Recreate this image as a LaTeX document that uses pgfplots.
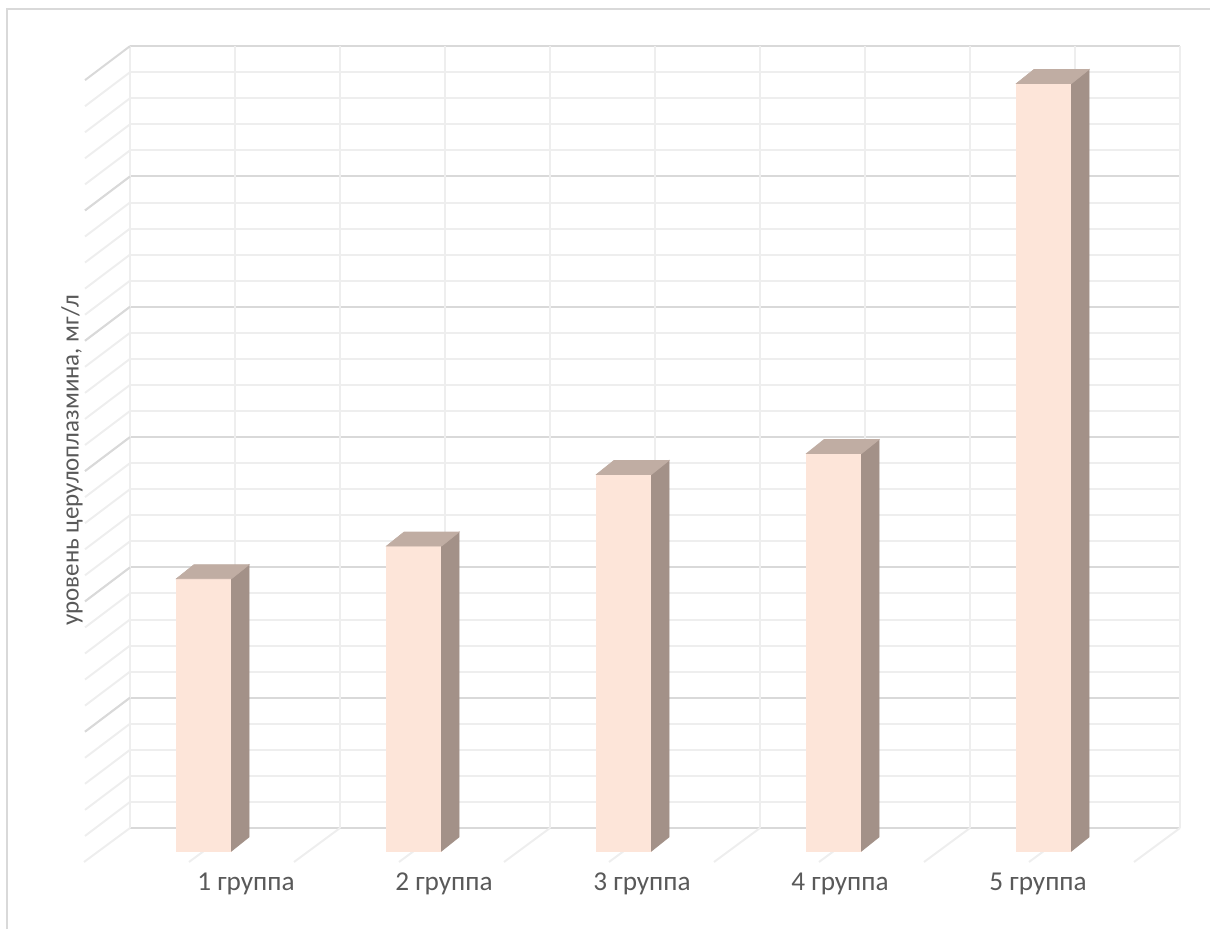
\documentclass[border=0pt]{standalone}
\usepackage{fontspec}
\setmainfont{Carlito}
\usepackage{pgfplots}
\usepackage{pgfplotstable}
\pgfplotsset{compat=1.18}
\definecolor{barfront}{RGB}{253,229,217}
\definecolor{bartop}{RGB}{192,173,163}
\definecolor{barside}{RGB}{163,145,136}
\definecolor{gmajor}{RGB}{217,217,217}
\definecolor{gminor}{RGB}{238,238,238}
\definecolor{txt}{RGB}{89,89,89}
\definecolor{framecol}{RGB}{217,217,217}

\pgfplotstableread{
x val
1 209
2 234
3 289
4 305
5 589
}\datatable

\pgfdeclareplotmark{cube3d}{%
  \pgfmathsetlengthmacro{\ybot}{-0.46cm-\barval*0.026067cm}%
  \fill[barfront] (-1.17cm,\ybot) rectangle (-0.07cm,-0.46cm);
  \fill[barside] (-0.07cm,\ybot) -- ++(0.35cm,0.28cm) -- (0.28cm,-0.18cm) -- (-0.07cm,-0.46cm) -- cycle;
  \fill[bartop] (-1.17cm,-0.46cm) -- (-0.07cm,-0.46cm) -- (0.28cm,-0.18cm) -- (-0.82cm,-0.18cm) -- cycle;
}

\begin{document}
\begin{tikzpicture}
\useasboundingbox (-2.6cm,-2.02cm) rectangle (21.6cm,16.56cm);
\draw[framecol, line width=1.13pt] (-2.46cm,-2.02cm) -- (-2.46cm,16.38cm) -- (21.6cm,16.38cm);
\begin{axis}[
  x=4.2cm, y=0.026067cm,
  xmin=0.5, xmax=5.5, ymin=0, ymax=600,
  clip=false,
  axis line style={draw=none},
  tick style={draw=none},
  major tick length=0pt, minor tick length=0pt,
  xtick={1.052,1.995,2.938,3.881,4.824},
  xticklabels={1 группа,2 группа,3 группа,4 группа,5 группа},
  xticklabel style={font=\fontsize{15.5}{18}\selectfont, text=txt, anchor=center, yshift=-1.12cm},
  ytick={0,100,...,600},
  yticklabels={{},{},{},{},{},{},{}},
  minor y tick num=4,
  ymajorgrids, yminorgrids,
  major grid style={draw=gmajor, line width=1.13pt},
  minor grid style={draw=gminor, line width=1.13pt},
  extra x ticks={0.5,1,...,5.5},
  extra x tick labels={},
  extra x tick style={xmajorgrids=true, major grid style={draw=gminor, line width=1.13pt}},
  ylabel={уровень церулоплазмина, мг/л},
  every axis y label/.style={at={(axis description cs:-0.0552,0.4706)}, rotate=90, anchor=center, font=\fontsize{14.2}{17}\selectfont, text=txt},
]
\pgfplotsinvokeforeach{20,40,...,580}{\draw[gminor, line width=1.13pt] (axis cs:0.5,#1) -- ++(-0.9cm,-0.68cm);}
\pgfplotsinvokeforeach{100,200,...,600}{\draw[gmajor, line width=1.13pt] (axis cs:0.5,#1) -- ++(-0.9cm,-0.68cm);}
\pgfplotsinvokeforeach{0.5,1,...,5.5}{\draw[gminor, line width=1.13pt] (axis cs:#1,0) -- ++(-0.92cm,-0.68cm);}
\addplot[only marks, mark=cube3d, visualization depends on={rawy \as \barval}] table[x=x, y=val] {\datatable};
\end{axis}
\end{tikzpicture}
\end{document}
